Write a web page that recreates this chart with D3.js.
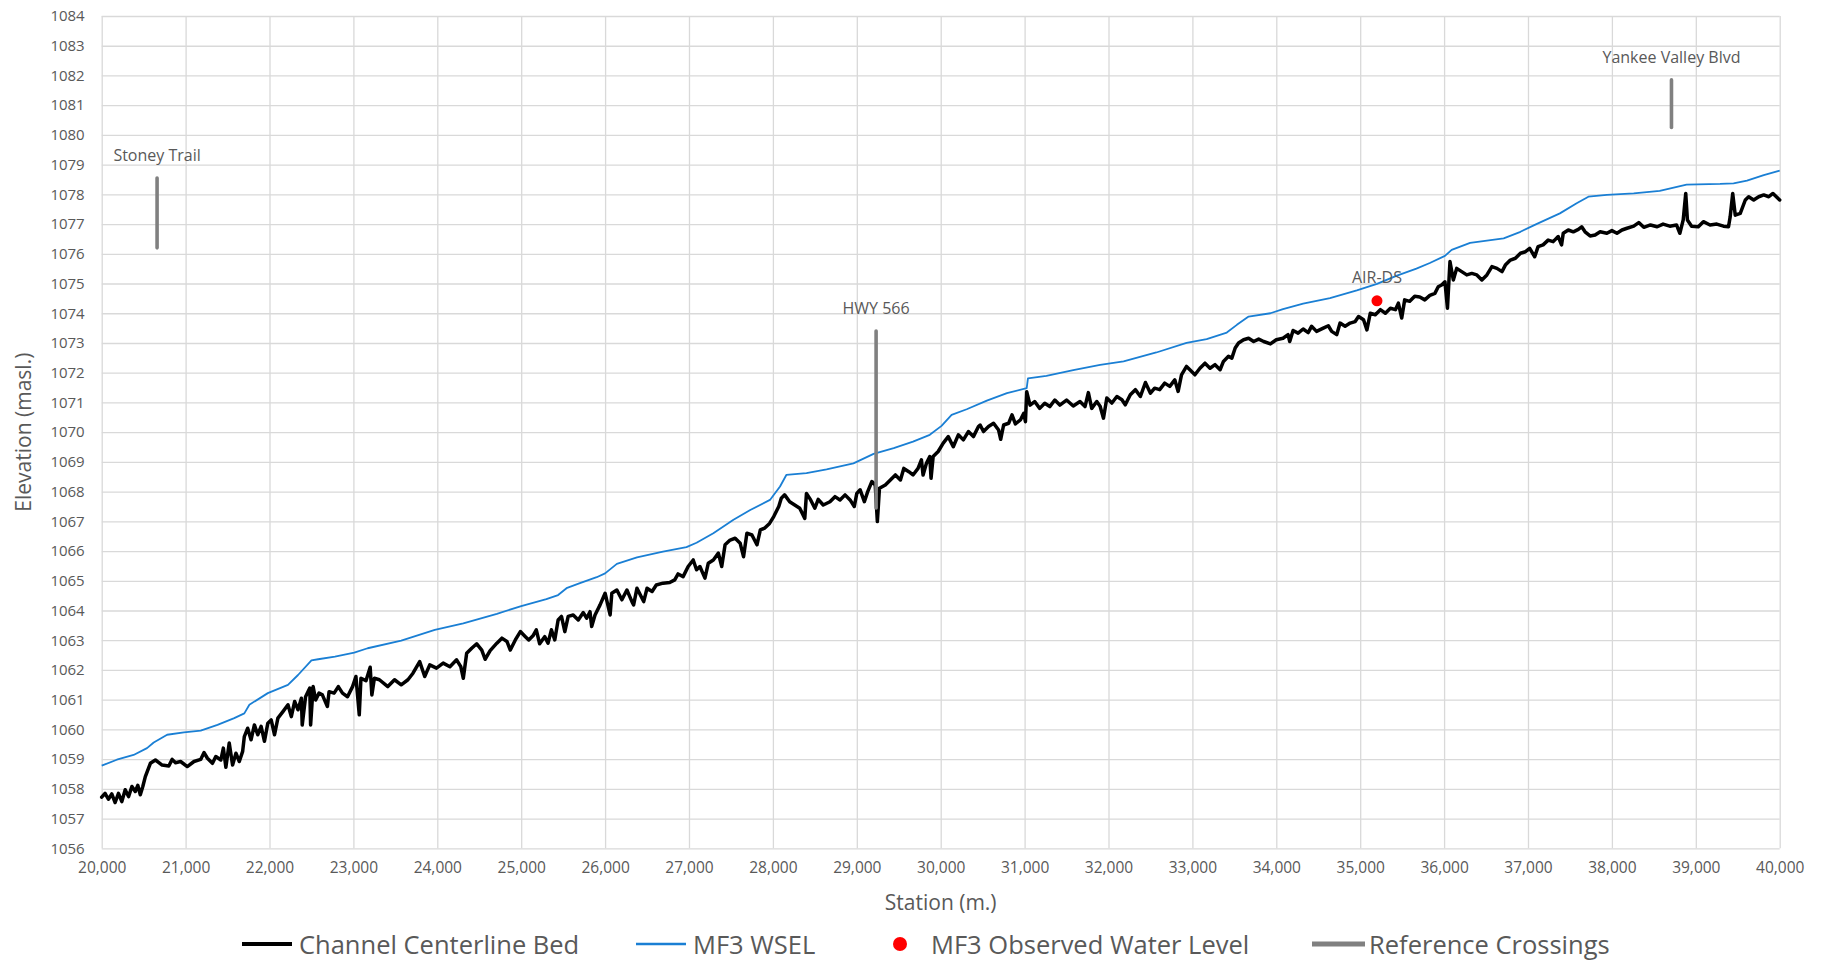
<!DOCTYPE html>
<html>
<head>
<meta charset="utf-8">
<script src="https://cdn.jsdelivr.net/npm/d3@7"></script>
<style>
  html, body { margin: 0; padding: 0; background: #ffffff; }
  svg { display: block; font-family: "Open Sans", "Noto Sans", sans-serif; }
</style>
</head>
<body>
<svg id="chart" width="1830" height="963"></svg>
<script>
// ---------------- DATA ----------------
const xTicks = [20000,21000,22000,23000,24000,25000,26000,27000,28000,29000,30000,31000,32000,33000,34000,35000,36000,37000,38000,39000,40000];
const yTicks = [1056,1057,1058,1059,1060,1061,1062,1063,1064,1065,1066,1067,1068,1069,1070,1071,1072,1073,1074,1075,1076,1077,1078,1079,1080,1081,1082,1083,1084];

// Channel Centerline Bed [station, elevation]
const bedData = [
[20000,1057.72],[20040,1057.85],[20080,1057.65],[20120,1057.83],[20160,1057.54],[20200,1057.85],[20240,1057.57],[20280,1057.97],[20320,1057.74],[20360,1058.08],[20400,1057.91],[20430,1058.12],[20460,1057.80],[20490,1058.08],[20520,1058.41],[20580,1058.86],[20640,1058.97],[20720,1058.80],[20800,1058.77],[20840,1058.99],[20880,1058.88],[20940,1058.92],[21020,1058.75],[21100,1058.92],[21180,1058.99],[21220,1059.22],[21260,1059.03],[21320,1058.86],[21360,1059.09],[21420,1058.97],[21450,1059.37],[21480,1058.73],[21520,1059.54],[21560,1058.80],[21600,1059.2],[21640,1058.92],[21680,1059.26],[21700,1059.76],[21740,1060.04],[21780,1059.65],[21820,1060.15],[21860,1059.82],[21900,1060.1],[21940,1059.6],[21980,1060.21],[22020,1060.32],[22060,1059.82],[22100,1060.38],[22160,1060.6],[22220,1060.83],[22260,1060.43],[22300,1060.94],[22340,1060.66],[22380,1061.05],[22390,1060.15],[22430,1061.1],[22480,1061.39],[22490,1060.15],[22520,1061.44],[22550,1060.99],[22590,1061.22],[22630,1061.16],[22690,1060.77],[22710,1061.27],[22770,1061.22],[22820,1061.44],[22870,1061.22],[22930,1061.1],[22990,1061.44],[23030,1061.78],[23070,1060.49],[23090,1061.72],[23150,1061.64],[23200,1062.09],[23220,1061.16],[23250,1061.72],[23310,1061.67],[23410,1061.44],[23490,1061.67],[23570,1061.5],[23650,1061.67],[23710,1061.89],[23790,1062.28],[23850,1061.78],[23910,1062.17],
[23990,1062.06],[24070,1062.23],[24150,1062.11],[24230,1062.34],[24280,1062.11],[24310,1061.72],[24350,1062.56],[24410,1062.73],[24470,1062.88],[24530,1062.67],[24570,1062.36],[24630,1062.65],[24710,1062.90],[24770,1063.07],[24830,1062.96],[24870,1062.67],[24930,1063.01],[24990,1063.29],[25050,1063.12],[25090,1063.01],[25140,1063.15],[25180,1063.35],[25220,1062.88],[25280,1063.12],[25320,1062.90],[25360,1063.35],[25400,1063.01],[25440,1063.68],[25480,1063.80],[25520,1063.29],[25560,1063.80],[25620,1063.85],[25680,1063.68],[25740,1063.93],[25780,1063.74],[25820,1063.96],[25840,1063.46],[25880,1063.85],[25940,1064.19],[26000,1064.58],[26060,1063.85],[26080,1064.58],[26140,1064.69],[26200,1064.36],[26260,1064.69],[26320,1064.30],[26340,1064.19],[26380,1064.75],[26460,1064.30],[26500,1064.75],[26560,1064.64],[26610,1064.86],[26690,1064.92],[26770,1064.94],[26830,1065.03],[26870,1065.23],[26930,1065.14],[26990,1065.48],[27050,1065.70],[27090,1065.37],[27130,1065.48],[27190,1065.09],[27230,1065.59],[27290,1065.70],[27350,1065.93],[27390,1065.48],[27430,1066.21],[27490,1066.37],[27550,1066.43],[27610,1066.26],[27650,1065.81],[27690,1066.6],[27750,1066.54],[27810,1066.21],[27850,1066.71],[27900,1066.77],
[27960,1066.93],[28010,1067.16],[28070,1067.5],[28100,1067.78],[28140,1067.89],[28200,1067.66],[28260,1067.55],[28320,1067.44],[28380,1067.10],[28400,1067.94],[28450,1067.72],[28500,1067.44],[28540,1067.74],[28600,1067.55],[28680,1067.66],[28740,1067.83],[28800,1067.72],[28860,1067.89],[28920,1067.72],[28970,1067.50],[29000,1067.94],[29040,1068.06],[29090,1067.66],[29130,1068.0],[29180,1068.34],[29220,1068.22],[29245,1066.99],[29270,1068.11],[29340,1068.22],[29400,1068.39],[29460,1068.56],[29520,1068.39],[29560,1068.78],[29620,1068.67],[29670,1068.56],[29730,1068.78],[29770,1069.07],[29790,1068.56],[29830,1068.95],[29870,1069.18],[29885,1068.45],[29910,1069.18],[29970,1069.35],[30030,1069.63],[30090,1069.85],[30150,1069.51],[30210,1069.91],[30270,1069.74],[30330,1070.02],[30390,1069.85],[30450,1070.19],[30470,1070.24],[30510,1070.02],[30570,1070.19],[30630,1070.30],[30690,1070.07],[30715,1069.76],[30750,1070.24],[30810,1070.30],[30850,1070.58],[30890,1070.28],[30950,1070.41],[30990,1070.63],[31010,1070.35],[31025,1071.36],[31065,1070.91],[31120,1071.03],[31180,1070.80],[31240,1070.97],[31300,1070.86],[31360,1071.08],[31420,1070.91],[31500,1071.08],[31580,1070.88],[31660,1071.03],[31720,1070.86],[31760,1071.33],[31800,1070.80],[31860,1071.03],
[31900,1070.87],[31940,1070.47],[31980,1071.15],[32040,1070.98],[32100,1071.20],[32160,1071.09],[32200,1070.92],[32260,1071.26],[32320,1071.43],[32380,1071.20],[32440,1071.67],[32500,1071.31],[32550,1071.48],[32610,1071.43],[32670,1071.65],[32730,1071.54],[32790,1071.76],[32830,1071.37],[32870,1071.93],[32930,1072.21],[32970,1072.10],[33030,1071.93],[33090,1072.15],[33150,1072.32],[33210,1072.15],[33270,1072.27],[33330,1072.10],[33370,1072.38],[33430,1072.55],[33470,1072.49],[33510,1072.83],[33550,1073.0],[33610,1073.11],[33670,1073.16],[33730,1073.05],[33790,1073.13],[33850,1073.05],[33930,1072.97],[34000,1073.11],[34080,1073.16],[34140,1073.28],[34160,1073.05],[34200,1073.42],[34260,1073.33],[34320,1073.47],[34380,1073.35],[34420,1073.56],[34480,1073.39],[34560,1073.50],[34620,1073.58],[34660,1073.39],[34720,1073.28],[34760,1073.67],[34820,1073.56],[34880,1073.67],[34940,1073.72],[34980,1073.89],[35040,1073.78],[35080,1073.44],[35120,1074.0],[35180,1073.95],[35240,1074.12],[35300,1074.0],[35360,1074.17],[35420,1074.12],[35455,1074.34],[35495,1073.84],[35530,1074.45],[35590,1074.40],[35650,1074.57],[35710,1074.55],[35770,1074.45],[35830,1074.6],
[35890,1074.67],[35930,1074.89],[35970,1074.95],[36010,1075.06],[36040,1074.17],[36070,1075.74],[36110,1075.12],[36150,1075.51],[36210,1075.40],[36270,1075.29],[36330,1075.34],[36390,1075.29],[36450,1075.12],[36510,1075.29],[36570,1075.57],[36630,1075.51],[36690,1075.40],[36730,1075.62],[36790,1075.79],[36850,1075.85],[36910,1076.02],[36970,1076.07],[37020,1076.18],[37080,1075.90],[37120,1076.24],[37180,1076.30],[37240,1076.46],[37300,1076.41],[37360,1076.58],[37400,1076.30],[37420,1076.69],[37480,1076.80],[37540,1076.74],[37600,1076.82],[37640,1076.91],[37680,1076.74],[37740,1076.60],[37800,1076.63],[37860,1076.74],[37940,1076.69],[38000,1076.78],[38060,1076.69],[38120,1076.80],[38180,1076.86],[38260,1076.93],[38320,1077.05],[38380,1076.89],[38460,1076.97],[38540,1076.91],[38610,1077.0],[38690,1076.93],[38770,1076.97],[38810,1076.69],[38850,1077.14],[38880,1078.03],[38900,1077.14],[38950,1076.93],[39030,1076.91],[39090,1077.08],[39170,1076.97],[39250,1077.0],[39330,1076.93],[39390,1076.91],[39410,1077.25],[39440,1078.03],[39470,1077.30],[39530,1077.36],[39590,1077.81],[39630,1077.92],[39690,1077.81],[39750,1077.92],[39810,1077.98],[39870,1077.92],[39920,1078.03],[39960,1077.92],[40000,1077.81]
];

// MF3 WSEL [station, elevation]
const wselData = [
[20000,1058.78],[20180,1058.98],[20380,1059.14],[20540,1059.37],[20620,1059.56],[20780,1059.82],[20980,1059.9],[21180,1059.96],[21380,1060.15],[21580,1060.38],[21700,1060.54],[21760,1060.83],[21980,1061.22],[22220,1061.5],[22340,1061.83],[22500,1062.32],[22580,1062.36],[22780,1062.45],[23010,1062.58],[23170,1062.73],[23570,1062.99],[23970,1063.35],
[24310,1063.57],[24710,1063.89],[25000,1064.15],[25300,1064.38],[25440,1064.52],[25540,1064.75],[25700,1064.92],[25900,1065.12],[26000,1065.25],[26140,1065.57],[26380,1065.79],[26690,1065.98],[26970,1066.13],[27090,1066.28],[27290,1066.6],[27530,1067.05],[27730,1067.38],[27965,1067.72],[28085,1068.17],[28160,1068.56],[28400,1068.62],[28640,1068.75],[28960,1068.95],[29200,1069.27],[29440,1069.46],[29670,1069.68],[29870,1069.91],[30010,1070.21],[30130,1070.58],[30310,1070.77],[30550,1071.06],[30790,1071.31],[31025,1071.48],[31040,1071.81],[31260,1071.89],[31580,1072.09],[31900,1072.26],[32180,1072.38],[32570,1072.68],[32930,1073.0],[33170,1073.13],[33410,1073.35],[33530,1073.61],[33670,1073.89],[33930,1074.0],[34080,1074.14],[34320,1074.32],[34640,1074.51],[34960,1074.77],[35200,1074.99],[35430,1075.26],[35670,1075.5],[35830,1075.69],[36010,1075.93],[36090,1076.13],[36310,1076.37],[36710,1076.52],[36910,1076.74],[37100,1077.0],[37380,1077.36],[37580,1077.70],[37720,1077.92],[37940,1077.98],[38260,1078.03],[38570,1078.12],[38890,1078.33],[39290,1078.35],[39450,1078.37],[39610,1078.46],[39810,1078.65],[40000,1078.80]
];

// MF3 Observed Water Level
const obsStation = [35200];
const obsElev = [1074.42];
const obsLabel = ["AIR-DS"];

// Reference Crossings
const crossStation = [20660, 29230, 38710];
const crossBottom = [1076.2, 1067.45, 1080.25];
const crossTop = [1078.55, 1073.4, 1081.85];
const crossLabel = ["Stoney Trail", "HWY 566", "Yankee Valley Blvd"];

const legendLabels = ["Channel Centerline Bed", "MF3 WSEL", "MF3 Observed Water Level", "Reference Crossings"];

// ---------------- CHART ----------------
const svg = d3.select("#chart");
const W = 1830, H = 963;
const plot = { left: 101.7, right: 1779.7, top: 16, bottom: 848.3 };
const textColor = "#595959";
const gridColor = "#d9d9d9";

svg.append("rect").attr("width", W).attr("height", H).attr("fill", "#fff");

const x = d3.scaleLinear().domain([20000, 40000]).range([plot.left, plot.right]);
const y = d3.scaleLinear().domain([1056, 1084]).range([plot.bottom, plot.top]);

// gridlines
const gx = svg.append("g")
  .attr("transform", `translate(0,${plot.bottom})`)
  .call(d3.axisBottom(x).tickValues(xTicks).tickSize(-(plot.bottom - plot.top)).tickFormat(d3.format(",")).tickPadding(14));
gx.select(".domain").remove();
gx.selectAll(".tick line").attr("stroke", gridColor).attr("stroke-width", 1.3);
gx.selectAll(".tick text").attr("fill", textColor).style("font-size", "15.5px").style("font-family", "Open Sans");

const gy = svg.append("g")
  .attr("transform", `translate(${plot.left},0)`)
  .call(d3.axisLeft(y).tickValues(yTicks).tickSize(-(plot.right - plot.left)).tickFormat(d3.format("d")).tickPadding(17));
gy.select(".domain").remove();
gy.selectAll(".tick line").attr("stroke", gridColor).attr("stroke-width", 1.3);
gy.selectAll(".tick text").attr("fill", textColor).style("font-size", "15px").style("font-family", "Open Sans");

// axis titles
svg.append("text")
  .attr("x", (plot.left + plot.right) / 2).attr("y", 902)
  .attr("text-anchor", "middle").attr("dominant-baseline", "central")
  .attr("fill", textColor).style("font-size", "21px")
  .text("Station (m.)");
svg.append("text")
  .attr("transform", `translate(23,${(plot.top + plot.bottom) / 2}) rotate(-90)`)
  .attr("text-anchor", "middle").attr("dominant-baseline", "central")
  .attr("fill", textColor).style("font-size", "21px")
  .text("Elevation (masl.)");

// lines
const line = d3.line().x(d => x(d[0])).y(d => y(d[1]));

svg.append("path").datum(wselData)
  .attr("d", line).attr("fill", "none")
  .attr("stroke", "#1a7fd4").attr("stroke-width", 1.8).attr("stroke-linejoin", "round");

svg.append("path").datum(bedData)
  .attr("d", line).attr("fill", "none")
  .attr("stroke", "#000").attr("stroke-width", 3.5).attr("stroke-linejoin", "round").attr("stroke-linecap", "round");

// reference crossings
const cross = crossStation.map((s, i) => ({ s, b: crossBottom[i], t: crossTop[i], label: crossLabel[i] }));
svg.selectAll(".cross").data(cross).enter().append("line")
  .attr("x1", d => x(d.s)).attr("x2", d => x(d.s))
  .attr("y1", d => y(d.b)).attr("y2", d => y(d.t))
  .attr("stroke", "#808080").attr("stroke-width", 3.6).attr("stroke-linecap", "round");
svg.selectAll(".crossLabel").data(cross).enter().append("text")
  .attr("x", d => x(d.s)).attr("y", d => y(d.t) - 23)
  .attr("text-anchor", "middle").attr("dominant-baseline", "central")
  .attr("fill", textColor).style("font-size", "16px")
  .text(d => d.label);

// observed point
const obs = obsStation.map((s, i) => ({ s, e: obsElev[i], label: obsLabel[i] }));
svg.selectAll(".obs").data(obs).enter().append("circle")
  .attr("cx", d => x(d.s)).attr("cy", d => y(d.e)).attr("r", 5.5).attr("fill", "#ff0000");
svg.selectAll(".obsLabel").data(obs).enter().append("text")
  .attr("x", d => x(d.s)).attr("y", d => y(d.e) - 24)
  .attr("text-anchor", "middle").attr("dominant-baseline", "central")
  .attr("fill", textColor).style("font-size", "16px")
  .text(d => d.label);

// legend
const legY = 944;
const legItems = [
  { x0: 242, x1: 292, tx: 299, type: "line", color: "#000", w: 4 },
  { x0: 636, x1: 686, tx: 693, type: "line", color: "#1a7fd4", w: 2.5 },
  { x0: 900, x1: 900, tx: 931, type: "dot", color: "#ff0000" },
  { x0: 1312, x1: 1365, tx: 1369, type: "line", color: "#808080", w: 5 }
];
const lg = svg.append("g");
legItems.forEach((it, i) => {
  if (it.type === "line") {
    lg.append("line").attr("x1", it.x0).attr("x2", it.x1).attr("y1", legY).attr("y2", legY)
      .attr("stroke", it.color).attr("stroke-width", it.w);
  } else {
    lg.append("circle").attr("cx", it.x0).attr("cy", legY).attr("r", 7).attr("fill", it.color);
  }
  lg.append("text").attr("x", it.tx).attr("y", legY)
    .attr("dominant-baseline", "central")
    .attr("fill", textColor).style("font-size", "25.5px")
    .text(legendLabels[i]);
});
</script>
</body>
</html>
